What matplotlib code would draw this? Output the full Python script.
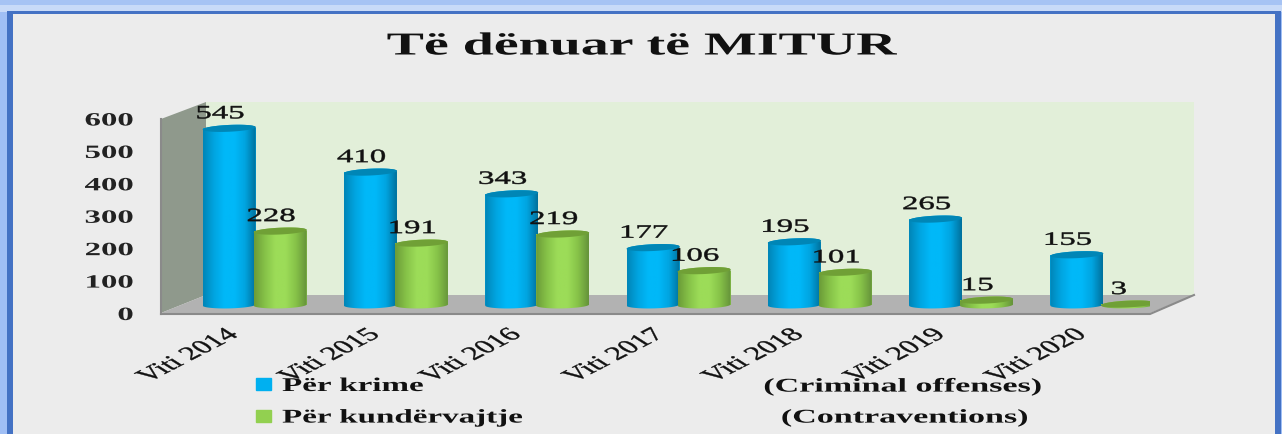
import numpy as np
import matplotlib
matplotlib.use('Agg')
import matplotlib.pyplot as plt
from matplotlib.patches import Polygon, Rectangle, PathPatch
from matplotlib.path import Path
from matplotlib.patheffects import AbstractPathEffect
from matplotlib.transforms import Affine2D, ScaledTranslation
from matplotlib.colors import LinearSegmentedColormap

# Datos
categorias = ['Viti 2014', 'Viti 2015', 'Viti 2016', 'Viti 2017', 'Viti 2018', 'Viti 2019', 'Viti 2020']
krime = [545, 410, 343, 177, 195, 265, 155]
kundervajtje = [228, 191, 219, 106, 101, 15, 3]
ticks_y = [0, 100, 200, 300, 400, 500, 600]

W, H = 1282, 435
SERIF = 'Liberation Serif'
INK = '#111111'


# La imagen original esta estirada en horizontal: se estira el texto igual
class Estirar(AbstractPathEffect):
    def __init__(self, sx=1.75, ancla='center', grosor=0.0):
        super().__init__()
        self.sx = sx
        self.ancla = ancla
        self.grosor = grosor

    def draw_path(self, renderer, gc, tpath, affine, rgbFace=None):
        box = tpath.get_extents(affine)
        cx = {'left': box.x0, 'center': (box.x0 + box.x1) / 2, 'right': box.x1}[self.ancla]
        nuevo = affine + Affine2D().translate(-cx, 0).scale(self.sx, 1).translate(cx, 0)
        gc0 = renderer.new_gc()
        gc0.copy_properties(gc)
        gc0.set_linewidth(self.grosor)
        if self.grosor > 0:
            gc0.set_foreground(rgbFace)
        renderer.draw_path(gc0, tpath, nuevo, rgbFace)
        gc0.restore()


fig = plt.figure(figsize=(W / 100, H / 100), dpi=100, facecolor='#ececec')

# Capa de fondo en pixeles: marco y paredes
bg = fig.add_axes([0, 0, 1, 1])
bg.imshow(np.array([[0.0], [1.0]]), extent=(0, W, 13, 0), aspect='auto',
          cmap=LinearSegmentedColormap.from_list('top', ['#a6c3f4', '#c8daf8']))
bg.set_xlim(0, W)
bg.set_ylim(H, 0)
bg.axis('off')
bg.add_patch(Rectangle((0, 13), 7, H, color='#a0bff5', lw=0))
bg.add_patch(Rectangle((1281, 13), 1, H, color='#a0bff5', lw=0))
bg.add_patch(Rectangle((7, 12), 1268, 3, color='#4472c4', lw=0))
bg.add_patch(Rectangle((7, 12), 6, H, color='#4472c4', lw=0))
bg.add_patch(Rectangle((1275, 12), 6, H, color='#4472c4', lw=0))

# Paredes del grafico 3D
bg.add_patch(Polygon([(206, 103), (1194, 103), (1194, 296), (206, 296)], color='#e2efd9', lw=0))
bg.add_patch(Polygon([(161, 120), (206, 103), (206, 296), (161, 314)], color='#8f998c', lw=0))
bg.add_patch(Polygon([(161, 314), (1150, 314), (1194, 296), (206, 296)], color='#b2b2b2', lw=0))
bg.plot([161, 1150, 1194], [315, 315, 296], color='#8a8a8a', lw=1.5)
bg.plot([161, 161], [120, 315], color='#8a8a8a', lw=1.5)

# Ejes de datos sobre el plano frontal
ax = fig.add_axes([161 / W, 1 - 314.5 / H, 989 / W, 194.5 / H])
ax.patch.set_alpha(0)
for s in ax.spines.values():
    s.set_visible(False)

px_x = 7 / 989
px_y = 600 / 194.5
# Desplazamiento por la profundidad del grafico
prof = ax.transData + ScaledTranslation(23 / 100, 8.5 / 100, fig.dpi_scale_trans)

ancho = 53 * px_x
sep = 25.5 * px_x
rx = ancho / 2
ry = 3.4 * px_y
tilt = 1.2 * px_y

blue_cmap = LinearSegmentedColormap.from_list('b', ['#0086b8', '#00a4e0', '#00b8f8', '#00b8f8', '#00a4e0', '#00729e'])
green_cmap = LinearSegmentedColormap.from_list('g', ['#6c9c38', '#86c248', '#9cdc58', '#9cdc58', '#86c248', '#66943a'])


def cilindro(x, v, z, cmap, col, col_top):
    ax.bar(x, v, ancho, color=col, transform=prof, zorder=z)
    t = np.linspace(np.pi, 2 * np.pi, 40)
    verts = list(zip(x + rx * np.cos(t), ry * np.sin(t) + tilt * 0.5 * np.cos(t)))
    t2 = np.linspace(0, np.pi, 40)
    verts += list(zip(x + rx * np.cos(t2), v + tilt * np.cos(t2) + ry * np.sin(t2)))
    verts.append(verts[0])
    cuerpo = PathPatch(Path(verts), transform=prof, fc='none', ec='none', zorder=z)
    ax.add_patch(cuerpo)
    im = ax.imshow(np.linspace(0, 1, 60).reshape(1, -1), extent=(x - rx, x + rx, -ry * 2, v + ry * 2),
                   aspect='auto', cmap=cmap, transform=prof, zorder=z)
    im.set_clip_path(cuerpo)
    tt = np.linspace(0, 2 * np.pi, 60)
    tapa = np.column_stack([x + rx * np.cos(tt), v + tilt * np.cos(tt) + ry * np.sin(tt)])
    ax.add_patch(Polygon(tapa, transform=prof, fc=col_top, ec='none', zorder=z + 0.1))
    ax.annotate(str(v), (x, v), xycoords=prof, xytext=(-9 * 0.72, 14.5 * 0.72), textcoords='offset points',
                ha='center', va='center', family=SERIF, fontsize=13.5, color=INK, zorder=50,
                path_effects=[Estirar(grosor=0.35)])


for i in range(len(categorias)):
    cilindro(i - sep, krime[i], 3 + i * 2, blue_cmap, '#00b0f0', '#0086b6')
    cilindro(i + sep, kundervajtje[i], 4 + i * 2, green_cmap, '#92d050', '#70a036')

ax.set_xlim(-0.5, 6.5)
ax.set_ylim(0, 600)
ax.set_yticks(ticks_y)
ax.set_yticklabels([str(t) for t in ticks_y], family=SERIF, fontsize=13.5, fontweight='bold', color='#222222')
ax.tick_params(axis='y', length=0, pad=20)
for lab in ax.get_yticklabels():
    lab.set_path_effects([Estirar(ancla='right')])
ax.set_xticks(range(len(categorias)))
ax.set_xticklabels(categorias, rotation=42, ha='right', rotation_mode='anchor',
                   family=SERIF, fontsize=13.5, color=INK)
ax.tick_params(axis='x', length=0, pad=9)
for lab in ax.get_xticklabels():
    lab.set_path_effects([Estirar(ancla='right', grosor=0.3)])
    lab.set_transform(lab.get_transform() + ScaledTranslation(-2 / 100, 0, fig.dpi_scale_trans))

# Titulo y leyenda
bg.text(642, 48, 'Të dënuar të MITUR', ha='center', va='center', family=SERIF,
        fontweight='bold', fontsize=23, color=INK, path_effects=[Estirar()])
handles = [Rectangle((0, 0), 1, 1, color='#00b0f0'), Rectangle((0, 0), 1, 1, color='#92d050')]
ley = bg.legend(handles, ['Për krime', 'Për kundërvajtje'], loc='upper left', bbox_to_anchor=(256 / W, 1 - 379 / H),
                frameon=False, handlelength=0.75, handleheight=0.55, handletextpad=0.6, labelspacing=0.75,
                borderpad=0, borderaxespad=0, prop={'family': SERIF, 'weight': 'bold', 'size': 14})
for txt in ley.get_texts():
    txt.set_color(INK)
    txt.set_path_effects([Estirar(sx=1.7, ancla='left')])
bg.text(903, 388, '(Criminal offenses)', ha='center', va='center', family=SERIF,
        fontweight='bold', fontsize=14, color=INK, path_effects=[Estirar()])
bg.text(905, 419, '(Contraventions)', ha='center', va='center', family=SERIF,
        fontweight='bold', fontsize=14, color=INK, path_effects=[Estirar()])

fig.savefig('out.png', dpi=100, facecolor=fig.get_facecolor())
